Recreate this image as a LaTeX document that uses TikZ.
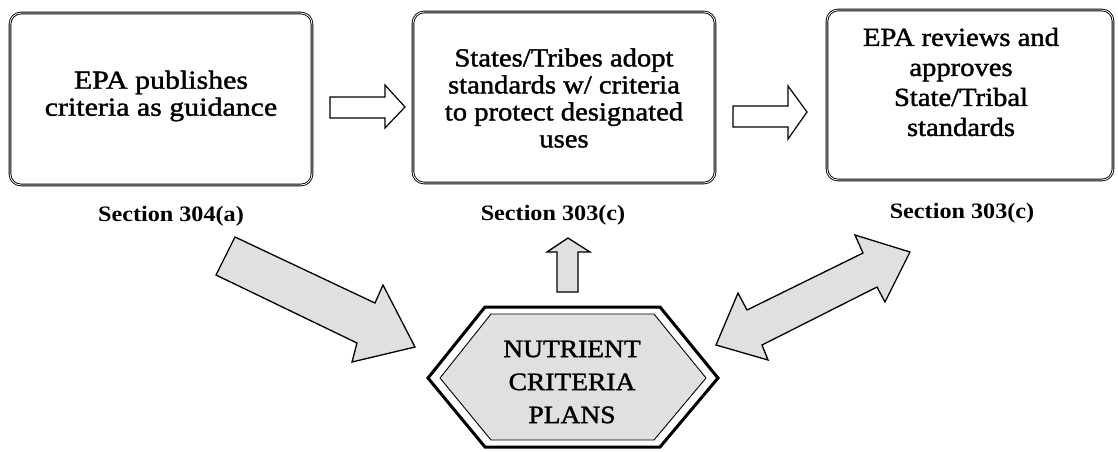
\documentclass[tikz,border=0pt]{standalone}
\usepackage{fontspec}
\setmainfont{Liberation Serif}
\newfontfamily\boxfont[FakeStretch=1.1,FakeBold=1.5]{Liberation Serif}
\newfontfamily\boxfontwide[FakeStretch=1.15,FakeBold=1.5]{Liberation Serif}
\newfontfamily\secfont[FakeStretch=1.1]{Liberation Serif}
\begin{document}
\begin{tikzpicture}[x=1pt,y=-1pt,
  stepbox/.style={draw, line width=0.9pt, double, double distance=0.8pt, rounded corners=11pt, inner sep=0pt},
  boxtext/.style={align=center, font=\boxfont\fontsize{26}{27}\selectfont, inner sep=0pt},
  sectext/.style={font=\secfont\bfseries\fontsize{22}{23}\selectfont, inner sep=0pt},
  hollow/.style={draw, line width=1.2pt, fill=white, line join=miter},
  shaded/.style={draw, line width=1.3pt, fill=black!12, line join=miter},
  hextext/.style={align=center, font=\boxfont\fontsize{25}{33}\selectfont, inner sep=0pt}
]
\useasboundingbox (0,0) rectangle (1118,451);
\fill[white] (0,0) rectangle (1118,451);

% boxes
\node[stepbox, minimum width=302pt, minimum height=172pt] (b1) at (161,99) {};
\node[stepbox, minimum width=302pt, minimum height=171pt] (b2) at (564,97.5) {};
\node[stepbox, minimum width=286pt, minimum height=170pt] (b3) at (970,95) {};

\node[boxtext, font=\boxfontwide\fontsize{26}{27}\selectfont] (t1) at (161,96) {EPA publishes\\criteria as guidance};
\node[boxtext] (t2) at (564,98) {States/Tribes adopt\\standards w/ criteria\\to protect designated\\uses};
\node[boxtext, font=\boxfont\fontsize{26}{30}\selectfont] (t3) at (961,82) {EPA reviews and\\approves\\State/Tribal\\standards};

% section labels
\node[sectext] (s1) at (171,216) {Section 304(a)};
\node[sectext] (s2) at (553,215) {Section 303(c)};
\node[sectext] (s3) at (962,213) {Section 303(c)};

% hollow arrows between boxes
\draw[hollow] (330,97) -- (385,97) -- (385,85) -- (405,107) -- (385,128) -- (385,118) -- (330,118) -- cycle;
\draw[hollow] (733,106) -- (788,106) -- (788,86) -- (807,112) -- (788,139) -- (788,127) -- (733,127) -- cycle;

% hexagon
\draw[line width=3pt, fill=white, line join=miter] (428,378) -- (485,307) -- (660,307) -- (718,378) -- (660,447) -- (485,447) -- cycle;
\draw[line width=0.9pt, fill=black!12, line join=miter] (440,378) -- (491,314) -- (654,314) -- (706,378) -- (654,440) -- (491,440) -- cycle;
\node[hextext] (hx) at (572,382) {NUTRIENT\\CRITERIA\\PLANS};

% shaded arrows
\draw[shaded] (235,237) -- (375,303) -- (383,285) -- (415,347) -- (352,362) -- (357,343) -- (216,275) -- cycle;
\draw[shaded] (557,292) -- (557,252) -- (547,252) -- (568,238) -- (590,252) -- (578,252) -- (578,292) -- cycle;
\draw[shaded] (716,345) -- (738,293) -- (747,310) -- (863,253) -- (855,235) -- (910,252) -- (885,302) -- (877,287) -- (762,345) -- (768,360) -- cycle;
\end{tikzpicture}
\end{document}
